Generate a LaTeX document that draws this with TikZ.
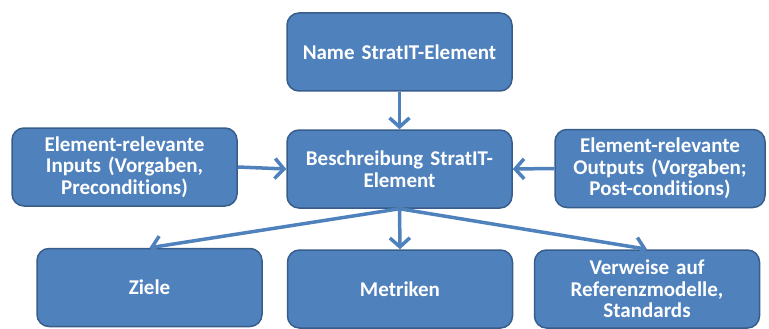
\documentclass[tikz,border=0pt]{standalone}
\usepackage{fontspec}
\setmainfont{Carlito}[RawFeature={-liga;-clig;-dlig}]
\usetikzlibrary{arrows.meta}
\definecolor{boxfill}{HTML}{4F81BD}
\definecolor{boxline}{HTML}{385D8A}
\begin{document}
\begin{tikzpicture}[x=1pt,y=-1pt,
  box/.style={draw=boxline, line width=1.5pt, fill=boxfill, rounded corners=12pt,
    text=white, font=\bfseries\fontsize{21}{21.5}\selectfont, align=center,
    minimum width=225pt, minimum height=78pt, inner sep=2pt, text width=218pt},
  conn/.style={draw=boxfill, line width=3.5pt,
    -{Straight Barb[length=9pt,width=20pt,line width=3.5pt]}}]
\useasboundingbox (0,0) rectangle (769,329);
\node[box] (name) at (399.5,52) {Name StratIT-Element};
\node[box] (besch) at (399.5,169) {Beschreibung StratIT-\\Element};
\node[box] (in) at (124.5,167) {Element-relevante\\Inputs (Vorgaben,\\Preconditions)};
\node[box, minimum width=210pt, text width=205pt] (out) at (660,168.5) {Element-relevante\\Outputs (Vorgaben;\\Post-conditions)};
\node[box] (ziele) at (149.5,287.5) {Ziele};
\node[box] (metr) at (400,289) {Metriken};
\node[box] (verw) at (647,289) {Verweise auf\\Referenzmodelle,\\Standards};
\draw[conn] (name.south) -- (besch.north);
\draw[conn] (in.east) -- (besch.west);
\draw[conn] (out.west) -- (besch.east);
\draw[conn] (besch.south) -- (ziele.north);
\draw[conn] (besch.south) -- (metr.north);
\draw[conn] (besch.south) -- (verw.north);
\end{tikzpicture}
\end{document}
